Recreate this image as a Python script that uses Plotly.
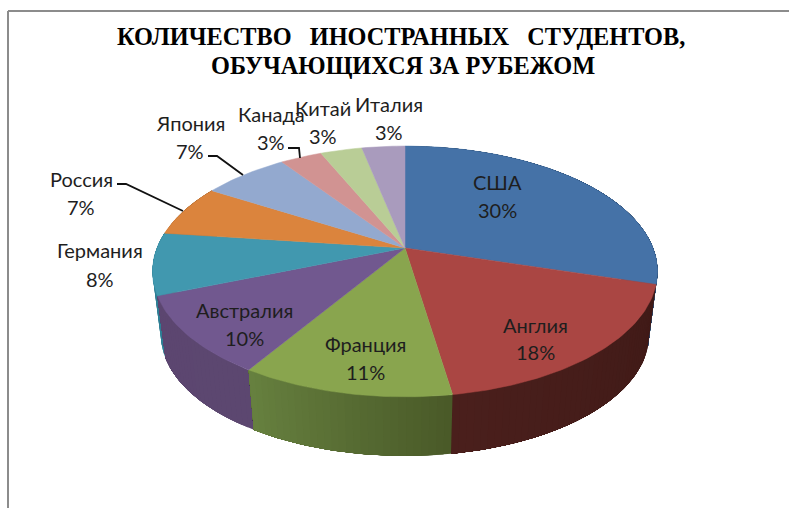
import math
import plotly.graph_objects as go

categories = ["США", "Англия", "Франция", "Австралия", "Германия", "Россия", "Япония", "Канада", "Китай", "Италия"]
shares = [29.6, 17.9, 11.4, 10.1, 8.0, 6.7, 6.6, 3.2, 3.2, 3.3]
top_colors = ["#4572a7", "#aa4643", "#89a54e", "#71588f", "#4198af", "#db843d", "#93a9cf", "#d19392", "#b9cd96", "#a99bbd"]
side_start = ["#2f4f75", "#401a17", "#4a5a28", "#5c4770", "#2f7f95", "#a0602c", "#6a7a96", "#96696a", "#86946c", "#7a7088"]
side_end = ["#2f4f75", "#4a1f1c", "#66803f", "#5c4670", "#2f7f95", "#a0602c", "#6a7a96", "#96696a", "#86946c", "#7a7088"]
# label placement in pixels: name line x, name line y, percent line y
label_x = [497, 535, 365, 244, 100, 81, 190, 271, 323, 389]
label_y1 = [182, 325, 344, 310, 250, 179, 123, 114, 108, 104]
label_y2 = [210, 352, 372, 338, 279, 207, 151, 142, 136, 132]
leaders = [
    ([117, 126, 183], [184, 184, 211]),
    ([208, 217, 243], [156, 156, 175]),
    ([288, 299, 300], [148, 148, 158]),
]

W, H = 789, 508
CX, CY = 405, 248
D, B, C = 248, 121, 0.187
DEPTH = 61
BOTTOM_SCALE = 0.967


def project(theta, lower=False):
    u, v = math.sin(theta), -math.cos(theta)
    k = 1 - C * v
    x, y = D * u / k, B * v / k
    if lower:
        return CX + x * BOTTOM_SCALE, CY + y * BOTTOM_SCALE + DEPTH + 3
    return CX + x, CY + y


def mix(a, b, t):
    pa = [int(a[i:i + 2], 16) for i in (1, 3, 5)]
    pb = [int(b[i:i + 2], 16) for i in (1, 3, 5)]
    return "#%02x%02x%02x" % tuple(round(p + (q - p) * t) for p, q in zip(pa, pb))


fig = go.Figure()
total = sum(shares)
edges = [0]
for s in shares:
    edges.append(edges[-1] + s / total * 2 * math.pi)

# side wall: each band runs to the end of its slice and the next band paints over it
order = sorted(range(len(shares)), key=lambda i: -math.cos((edges[i] + edges[i + 1]) / 2))
for i in order:
    a0, a1 = edges[i], edges[i + 1]
    if -math.cos((a0 + a1) / 2) < -0.6:
        continue
    bands = max(2, int((a1 - a0) / 0.025))
    for j in range(bands):
        t0 = a0 + (a1 - a0) * j / bands
        steps = 40
        ts = [t0 + (a1 - t0) * k / steps for k in range(steps + 1)]
        pts = [project(t) for t in ts] + [project(t, True) for t in reversed(ts)]
        col = mix(side_start[i], side_end[i], j / max(1, bands - 1))
        fig.add_trace(go.Scatter(
            x=[p[0] for p in pts] + [pts[0][0]], y=[p[1] for p in pts] + [pts[0][1]],
            mode="lines", fill="toself", fillcolor=col, line=dict(width=0),
            hoverinfo="skip", showlegend=False))

# top surface
for i, name in enumerate(categories):
    a0, a1 = edges[i], edges[i + 1]
    n = max(4, int((a1 - a0) / 0.02))
    pts = [(CX, CY)] + [project(a0 + (a1 - a0) * j / n) for j in range(n + 1)] + [(CX, CY)]
    fig.add_trace(go.Scatter(
        x=[p[0] for p in pts], y=[p[1] for p in pts], name=name,
        mode="lines", fill="toself", fillcolor=top_colors[i], line=dict(color=top_colors[i], width=0.5),
        hoverinfo="name", showlegend=False))

for lx, ly in leaders:
    fig.add_trace(go.Scatter(x=lx, y=ly, mode="lines", line=dict(color="#111111", width=1.8),
                             hoverinfo="skip", showlegend=False))

font = dict(family="Lato, Open Sans", size=20, color="#1e1e1e")
anns = []
for i, name in enumerate(categories):
    pct = f"{round(shares[i] / total * 100)}%"
    for txt, y in ((name, label_y1[i]), (pct, label_y2[i])):
        anns.append(dict(x=label_x[i], y=y, text=txt, showarrow=False, xref="x", yref="y",
                         xanchor="center", yanchor="middle", font=font))

title_font = dict(family="Liberation Serif", size=24.3, color="#000000", weight="bold")
anns.append(dict(x=400.5, y=36, text="КОЛИЧЕСТВО\u00a0\u00a0\u00a0ИНОСТРАННЫХ\u00a0\u00a0\u00a0СТУДЕНТОВ,",
                 showarrow=False, xref="x", yref="y", font=title_font,
                 xanchor="center", yanchor="middle"))
anns.append(dict(x=402.5, y=65, text="ОБУЧАЮЩИХСЯ ЗА РУБЕЖОМ",
                 showarrow=False, xref="x", yref="y", font=title_font,
                 xanchor="center", yanchor="middle"))

frame = dict(color="#8c8c8c", width=2)
shapes = [
    dict(type="line", x0=8, x1=8, y0=11, y1=H, xref="x", yref="y", line=frame),
    dict(type="line", x0=8, x1=W, y0=11, y1=11, xref="x", yref="y", line=frame),
]

fig.update_layout(
    width=W, height=H, margin=dict(l=0, r=0, t=0, b=0),
    paper_bgcolor="white", plot_bgcolor="white",
    xaxis=dict(range=[0, W], visible=False, fixedrange=True),
    yaxis=dict(range=[H, 0], visible=False, fixedrange=True),
    annotations=anns, shapes=shapes, showlegend=False,
)
fig.write_html("out.html", config=dict(displayModeBar=False),
               post_script="document.body.style.margin='0';document.body.style.overflow='hidden';")
